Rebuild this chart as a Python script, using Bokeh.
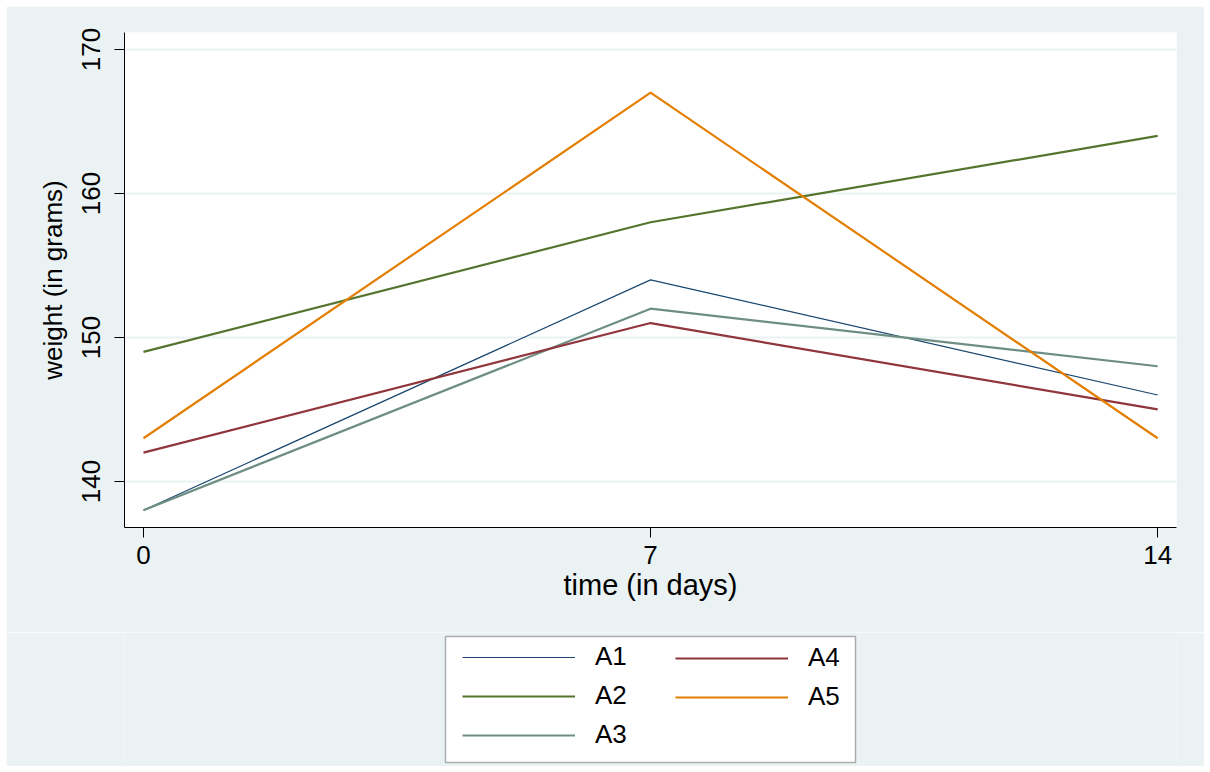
from bokeh.plotting import figure
from bokeh.models import Legend, LegendItem, FixedTicker, Range1d, BoxAnnotation
from bokeh.layouts import column
from bokeh.embed import file_html
from bokeh.resources import INLINE

days = [0, 7, 14]
series_names = ["A1", "A2", "A3", "A4", "A5"]
a1 = [138, 154, 146]
a2 = [149, 158, 164]
a3 = [138, 152, 148]
a4 = [142, 151, 145]
a5 = [143, 167, 143]
colors = ["#1a476f", "#55752f", "#6e8e84", "#90353b", "#e37e00"]
widths = [1.2, 2.2, 2.2, 2.2, 2.2]
x_ticks = [0, 7, 14]
y_ticks = [140, 150, 160, 170]

BG = "#eaf2f3"
FONT = "Liberation Sans"
all_series = [a1, a2, a3, a4, a5]

# ---------------- main plot ----------------
p = figure(width=1198, height=626, output_backend="svg", toolbar_location=None,
           x_range=Range1d(-0.262, 14.26), y_range=Range1d(136.8, 171.18),
           min_border_left=118, min_border_right=28, min_border_top=26, min_border_bottom=105)
p.margin = (6, 0, 0, 6)
p.background_fill_color = "white"
p.border_fill_color = BG
p.outline_line_color = None

for ys, c, w in zip(all_series, colors, widths):
    p.line(days, ys, line_color=c, line_width=w)

p.xaxis.ticker = FixedTicker(ticks=x_ticks)
p.yaxis.ticker = FixedTicker(ticks=y_ticks)
p.xaxis.minor_tick_line_color = None
p.yaxis.minor_tick_line_color = None
for ax in (p.xaxis, p.yaxis):
    ax.major_tick_in = 0
    ax.major_tick_out = 10
    ax.axis_line_color = "black"
    ax.major_tick_line_color = "black"
    ax.major_label_text_font = FONT
    ax.major_label_text_font_size = "26px"
    ax.major_label_text_color = "black"
    ax.axis_label_text_font = FONT
    ax.axis_label_text_font_style = "normal"
    ax.axis_label_text_color = "black"
p.xaxis.axis_label_text_font_size = "29px"
p.yaxis.axis_label_text_font_size = "26px"
p.xaxis.axis_label = "time (in days)"
p.yaxis.axis_label = "weight (in grams)"
p.yaxis.major_label_orientation = "vertical"
p.xaxis.major_label_standoff = 8
p.yaxis.major_label_standoff = 14
p.xaxis.axis_label_standoff = 2
p.yaxis.axis_label_standoff = 12

p.xgrid.grid_line_color = None
p.ygrid.grid_line_color = BG
p.ygrid.grid_line_width = 2

# ---------------- legend panel ----------------
LH = 134
q = figure(width=1198, height=LH, output_backend="svg", toolbar_location=None,
           x_range=Range1d(-0.262, 14.26), y_range=Range1d(136.8, 171.18),
           min_border=0, min_border_left=118, x_axis_location=None, y_axis_location=None)
q.margin = (0, 0, 0, 6)
q.background_fill_color = BG
q.border_fill_color = BG
q.outline_line_color = None
q.xgrid.grid_line_color = None
q.ygrid.grid_line_color = None

leg_renderers = []
for ys, c, w in zip(all_series, colors, widths):
    r = q.line(days, ys, line_color=c, line_width=w, visible=False)
    leg_renderers.append(r)

box = BoxAnnotation(left=321, right=731, top=4, bottom=LH - 4,
                    left_units="screen", right_units="screen", top_units="screen", bottom_units="screen",
                    fill_color="white", fill_alpha=1.0, line_color="black", line_width=1.5)
q.add_layout(box)

common = dict(orientation="vertical", glyph_width=113, glyph_height=28, label_standoff=20,
              spacing=8, padding=0, margin=0, label_text_font=FONT, label_text_font_size="26px",
              label_text_color="black", border_line_color=None, background_fill_alpha=0.0,
              inactive_fill_alpha=0.0)
items1 = [LegendItem(label=n, renderers=[r]) for n, r in zip(series_names[:3], leg_renderers[:3])]
items2 = [LegendItem(label=n, renderers=[r]) for n, r in zip(series_names[3:], leg_renderers[3:])]
leg1 = Legend(items=items1, location=(338, 16), **common)
leg2 = Legend(items=items2, location=(551, 54), **common)
q.add_layout(leg1, "center")
q.add_layout(leg2, "center")

layout = column(p, q, spacing=0)
open("out.html", "w").write(file_html(layout, INLINE))
